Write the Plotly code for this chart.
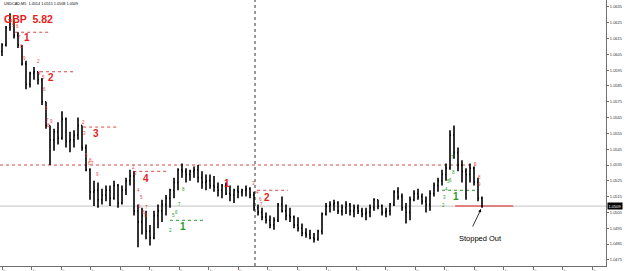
import plotly.graph_objects as go

# ---------------- data (USDCAD M5) ----------------
opens = [1.0607, 1.0611, 1.0622, 1.0625, 1.0617, 1.0610, 1.0599, 1.0586, 1.0593, 1.0594,
         1.0589, 1.0575, 1.0560, 1.0551, 1.0556, 1.0552, 1.0564, 1.0550, 1.0551, 1.0554,
         1.0560, 1.0546, 1.0532, 1.0518, 1.0519, 1.0513, 1.0516, 1.0519, 1.0514, 1.0522,
         1.0511, 1.0519, 1.0525, 1.0528, 1.0506, 1.0499, 1.0503, 1.0493, 1.0489, 1.0503,
         1.0506, 1.0510, 1.0514, 1.0519, 1.0524, 1.0532, 1.0531, 1.0529, 1.0531, 1.0532,
         1.0527, 1.0524, 1.0525, 1.0522, 1.0521, 1.0519, 1.0522, 1.0517, 1.0516, 1.0519,
         1.0518, 1.0519, 1.0520, 1.0516, 1.0508, 1.0505, 1.0502, 1.0500, 1.0497, 1.0500,
         1.0510, 1.0506, 1.0503, 1.0502, 1.0497, 1.0495, 1.0492, 1.0491, 1.0489, 1.0488,
         1.0493, 1.0504, 1.0509, 1.0510, 1.0511, 1.0506, 1.0508, 1.0510, 1.0506, 1.0508,
         1.0506, 1.0504, 1.0505, 1.0508, 1.0513, 1.0509, 1.0505, 1.0506, 1.0510, 1.0518,
         1.0515, 1.0508, 1.0505, 1.0513, 1.0517, 1.0515, 1.0512, 1.0510, 1.0517, 1.0522,
         1.0525, 1.0529, 1.0533, 1.0554, 1.0543, 1.0535, 1.0531, 1.0529, 1.0533, 1.0524,
         1.0514]
highs = [1.0612, 1.0623, 1.0631, 1.0627, 1.0619, 1.0611, 1.0601, 1.0594, 1.0597, 1.0594,
         1.0590, 1.0575, 1.0560, 1.0558, 1.0562, 1.0569, 1.0565, 1.0556, 1.0557, 1.0565,
         1.0560, 1.0548, 1.0533, 1.0525, 1.0524, 1.0520, 1.0522, 1.0522, 1.0525, 1.0523,
         1.0522, 1.0527, 1.0532, 1.0531, 1.0510, 1.0508, 1.0506, 1.0497, 1.0506, 1.0510,
         1.0513, 1.0516, 1.0520, 1.0527, 1.0533, 1.0536, 1.0533, 1.0532, 1.0534, 1.0535,
         1.0531, 1.0529, 1.0529, 1.0528, 1.0524, 1.0523, 1.0524, 1.0522, 1.0520, 1.0522,
         1.0520, 1.0522, 1.0521, 1.0518, 1.0510, 1.0508, 1.0505, 1.0503, 1.0502, 1.0511,
         1.0515, 1.0510, 1.0508, 1.0503, 1.0502, 1.0498, 1.0495, 1.0494, 1.0492, 1.0494,
         1.0505, 1.0511, 1.0512, 1.0513, 1.0512, 1.0510, 1.0512, 1.0511, 1.0510, 1.0510,
         1.0508, 1.0508, 1.0510, 1.0514, 1.0513, 1.0510, 1.0508, 1.0511, 1.0519, 1.0521,
         1.0517, 1.0511, 1.0515, 1.0519, 1.0520, 1.0517, 1.0515, 1.0519, 1.0524, 1.0527,
         1.0532, 1.0536, 1.0557, 1.0560, 1.0546, 1.0538, 1.0533, 1.0536, 1.0534, 1.0527,
         1.0515]
lows = [1.0604, 1.0610, 1.0620, 1.0615, 1.0609, 1.0598, 1.0583, 1.0584, 1.0589, 1.0586,
        1.0573, 1.0558, 1.0535, 1.0544, 1.0548, 1.0551, 1.0546, 1.0543, 1.0546, 1.0551,
        1.0544, 1.0531, 1.0513, 1.0509, 1.0508, 1.0510, 1.0512, 1.0509, 1.0513, 1.0508,
        1.0510, 1.0516, 1.0522, 1.0503, 1.0483, 1.0491, 1.0488, 1.0484, 1.0488, 1.0495,
        1.0499, 1.0503, 1.0508, 1.0514, 1.0519, 1.0527, 1.0524, 1.0525, 1.0527, 1.0524,
        1.0520, 1.0519, 1.0520, 1.0518, 1.0515, 1.0514, 1.0516, 1.0512, 1.0511, 1.0514,
        1.0515, 1.0515, 1.0514, 1.0506, 1.0503, 1.0500, 1.0498, 1.0495, 1.0494, 1.0499,
        1.0505, 1.0500, 1.0499, 1.0495, 1.0493, 1.0490, 1.0489, 1.0488, 1.0486, 1.0487,
        1.0491, 1.0503, 1.0505, 1.0506, 1.0504, 1.0503, 1.0504, 1.0503, 1.0502, 1.0504,
        1.0502, 1.0500, 1.0502, 1.0506, 1.0507, 1.0503, 1.0502, 1.0503, 1.0509, 1.0513,
        1.0506, 1.0498, 1.0500, 1.0512, 1.0513, 1.0510, 1.0505, 1.0506, 1.0515, 1.0518,
        1.0522, 1.0525, 1.0532, 1.0539, 1.0531, 1.0524, 1.0513, 1.0524, 1.0522, 1.0512,
        1.0508]
closes = [1.0611, 1.0622, 1.0627, 1.0617, 1.0611, 1.0599, 1.0586, 1.0593, 1.0594, 1.0589,
          1.0575, 1.0560, 1.0551, 1.0556, 1.0552, 1.0564, 1.0550, 1.0551, 1.0554, 1.0560,
          1.0546, 1.0532, 1.0518, 1.0519, 1.0513, 1.0516, 1.0519, 1.0514, 1.0522, 1.0511,
          1.0519, 1.0525, 1.0528, 1.0506, 1.0499, 1.0503, 1.0493, 1.0489, 1.0503, 1.0506,
          1.0510, 1.0514, 1.0519, 1.0524, 1.0532, 1.0531, 1.0529, 1.0531, 1.0532, 1.0527,
          1.0524, 1.0525, 1.0522, 1.0521, 1.0519, 1.0522, 1.0517, 1.0516, 1.0519, 1.0518,
          1.0519, 1.0520, 1.0516, 1.0508, 1.0505, 1.0502, 1.0500, 1.0497, 1.0500, 1.0510,
          1.0506, 1.0503, 1.0502, 1.0497, 1.0495, 1.0492, 1.0491, 1.0489, 1.0488, 1.0493,
          1.0504, 1.0509, 1.0510, 1.0511, 1.0506, 1.0508, 1.0510, 1.0506, 1.0508, 1.0506,
          1.0504, 1.0505, 1.0508, 1.0513, 1.0509, 1.0505, 1.0506, 1.0510, 1.0518, 1.0515,
          1.0508, 1.0505, 1.0513, 1.0517, 1.0515, 1.0512, 1.0510, 1.0517, 1.0522, 1.0525,
          1.0529, 1.0533, 1.0554, 1.0543, 1.0535, 1.0531, 1.0529, 1.0533, 1.0524, 1.0514,
          1.0509]

time_labels = ["10 Jan 08:15", "10 Jan 08:50", "10 Jan 09:30", "10 Jan 10:05", "10 Jan 10:45",
               "10 Jan 11:20", "10 Jan 12:00", "10 Jan 12:35", "10 Jan 13:10", "10 Jan 13:50",
               "10 Jan 14:25", "10 Jan 15:05", "10 Jan 15:40", "10 Jan 16:20", "10 Jan 16:55",
               "10 Jan 17:35", "10 Jan 18:10", "10 Jan 18:45", "10 Jan 19:25", "10 Jan 20:00",
               "10 Jan 20:40"]
price_ticks = [1.0475, 1.0485, 1.0495, 1.0505, 1.0515, 1.0525, 1.0535, 1.0545, 1.0555,
               1.0565, 1.0575, 1.0585, 1.0595, 1.0605, 1.0615, 1.0625, 1.0635]

# trade levels: (price, start bar, end bar)
red_levels = [1.0619, 1.0594, 1.0559, 1.0531, 1.0519]
red_starts = [3.3, 9.5, 20.3, 32.8, 63.8]
red_ends = [12.0, 17.8, 29.0, 41.5, 71.5]
green_levels = [1.0500, 1.0519]
green_starts = [42.0, 110.0]
green_ends = [50.8, 119.0]
swing_level = 1.0535
stop_level = 1.0509
bid = 1.0509

n = len(closes)
idx = list(range(n))

RED = "#e3231b"
RED_DOT = "#d94848"
GREEN = "#2b9a2b"

W, H = 606.0, 266.0


def px(x, y):
    return x / W, 1 - y / H


fig = go.Figure()
fig.add_trace(go.Ohlc(x=idx, open=opens, high=highs, low=lows, close=closes,
                      increasing=dict(line=dict(color="black", width=1.6)),
                      decreasing=dict(line=dict(color="black", width=1.6)),
                      tickwidth=0.25, hoverinfo="skip"))

shapes = []
shapes.append(dict(type="line", xref="paper", yref="y", x0=0, x1=1, y0=bid, y1=bid,
                   line=dict(color="#c4c4c4", width=1), layer="below"))
shapes.append(dict(type="line", xref="x", yref="y", x0=-0.5, x1=118.3, y0=swing_level, y1=swing_level,
                   line=dict(color=RED_DOT, width=1, dash="dot"), layer="below"))
for lv, s, e in zip(red_levels, red_starts, red_ends):
    shapes.append(dict(type="line", xref="x", yref="y", x0=s, x1=e, y0=lv, y1=lv,
                       line=dict(color=RED_DOT, width=1, dash="dot"), layer="below"))
for lv, s, e in zip(green_levels, green_starts, green_ends):
    shapes.append(dict(type="line", xref="x", yref="y", x0=s, x1=e, y0=lv, y1=lv,
                       line=dict(color=GREEN, width=1, dash="dot"), layer="below"))
shapes.append(dict(type="line", xref="x", yref="y", x0=113.3, x1=127.8, y0=stop_level, y1=stop_level,
                   line=dict(color="#e06060", width=1.5), layer="below"))
shapes.append(dict(type="line", xref="x", yref="paper", x0=63.25, x1=63.25, y0=0, y1=1,
                   line=dict(color="#333333", width=1, dash="dot"), layer="below"))

ann = []


def text(t, x, y, size, color, bold=False, xanchor="center", **kw):
    xp, yp = px(x, y)
    ann.append(dict(text=("<b>%s</b>" % t) if bold else t, x=xp, y=yp, xref="paper", yref="paper",
                    showarrow=False, xanchor=xanchor, yanchor="middle",
                    font=dict(size=size, color=color, family="Liberation Sans, Arial"), **kw))


text("USDCAD,M5  1.0514 1.0515 1.0508 1.0509", 1.5, 4, 3.8, "black", xanchor="left")
text("GBP  5.82", 1.5, 19, 10.5, RED, bold=True, xanchor="left")

big_red = [("1", 27, 38), ("2", 51, 78), ("3", 96, 133), ("4", 146, 178), ("1", 227, 183), ("2", 267, 197)]
for t, x, y in big_red:
    text(t, x, y, 10, RED, bold=True)
big_green = [("1", 183, 226), ("1", 456, 196)]
for t, x, y in big_green:
    text(t, x, y, 10, GREEN, bold=True)

small_red = [("5", 13, 25), ("6", 17, 27), ("7", 19, 37), ("8", 21, 47), ("9", 24, 58), ("2", 38, 61),
             ("4", 40, 73), ("5", 43, 77), ("6", 44, 89), ("8", 46, 108), ("7", 47, 120), ("9", 51, 121),
             ("8", 49, 125), ("2", 83, 123), ("3", 84, 133), ("5", 86, 155), ("6", 89, 163), ("7", 92, 163),
             ("8", 90, 160), ("9", 97, 174), ("2", 133, 167), ("3", 135, 173), ("4", 138, 190), ("5", 141, 197),
             ("6", 139, 206), ("7", 146, 207), ("8", 143, 212), ("9", 145, 215), ("3", 253, 183),
             ("4", 257, 192), ("6", 260, 199), ("7", 261, 204), ("5", 475, 164), ("8", 479, 177),
             ("9", 479, 184)]
for t, x, y in small_red:
    text(t, x, y, 4.5, "#e04848")
small_green = [("2", 171, 230), ("5", 173, 215), ("6", 176, 212), ("7", 179, 204), ("8", 183, 189),
               ("2", 443, 205), ("3", 444, 197), ("4", 446, 189), ("5", 448, 181), ("6", 450, 180),
               ("8", 453, 172), ("7", 452, 157)]
for t, x, y in small_green:
    text(t, x, y, 4.5, GREEN)

text("Stopped Out", 480, 238, 7.5, "black")
# arrow
tipx, tipy = px(481, 209)
ann.append(dict(text="", x=tipx, y=tipy, xref="paper", yref="paper", showarrow=True,
                ax=-9, ay=19, arrowhead=2, arrowsize=0.8, arrowwidth=0.8, arrowcolor="black"))
# current price box
ann.append(dict(text="1.0509", x=1, y=bid, xref="paper", yref="y", xanchor="left", yanchor="middle",
                showarrow=False, bgcolor="black", borderpad=0.5, xshift=1,
                font=dict(size=4, color="white", family="Liberation Sans, Arial")))

tickpos = [k * 7.375 for k in range(len(time_labels))]

fig.update_layout(
    width=625, height=271,
    margin=dict(l=0, r=19, t=0, b=5),
    paper_bgcolor="white", plot_bgcolor="white",
    showlegend=False,
    shapes=shapes, annotations=ann,
    xaxis=dict(range=[-0.5, 151], showgrid=False, zeroline=False, showline=True,
               linecolor="#707070", linewidth=1, ticks="outside", ticklen=3, tickcolor="#707070",
               tickvals=tickpos, ticktext=time_labels, ticklabelposition="outside right",
               tickfont=dict(size=4, color="#333333", family="Liberation Sans, Arial"),
               rangeslider=dict(visible=False), automargin=False),
    yaxis=dict(range=[1.04711, 1.06394], side="right", showgrid=False, zeroline=False,
               showline=True, linecolor="#707070", linewidth=1, ticks="outside", ticklen=2,
               tickcolor="#707070", tickvals=price_ticks, ticktext=["%.4f" % v for v in price_ticks],
               tickfont=dict(size=4, color="#333333", family="Liberation Sans, Arial"),
               automargin=False),
)

fig.write_html("out.html")
